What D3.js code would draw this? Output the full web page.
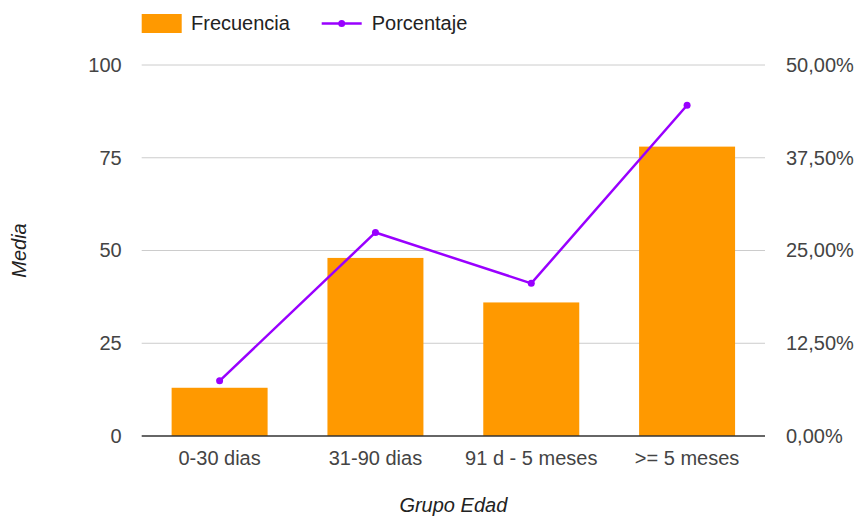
<!DOCTYPE html>
<html><head><meta charset="utf-8">
<script src="https://cdn.jsdelivr.net/npm/d3@7"></script>
<style>body{margin:0;background:#fff}svg{display:block}text{font-family:"Liberation Sans",Arial,sans-serif}</style>
</head><body><svg id="c" width="854" height="517"></svg>
<script>
const categories = ["0-30 dias", "31-90 dias", "91 d - 5 meses", ">= 5 meses"];
const frecuencia = [13, 48, 36, 78];
const porcentaje = [7.43, 27.43, 20.57, 44.57];
const leftTicks = [0, 25, 50, 75, 100];
const rightTicks = [0, 12.5, 25, 37.5, 50];
const seriesNames = ["Frecuencia", "Porcentaje"];

const svg = d3.select("#c");
const L = 141.7, R = 765, T = 65, B = 436;
const fs = 20;
const x = d3.scaleBand().domain(categories).range([L, R]).paddingInner(0.384).paddingOuter(0.192);
const y = d3.scaleLinear().domain([0, 100]).range([B, T]);
const y2 = d3.scaleLinear().domain([0, 50]).range([B, T]);

// gridlines
svg.append("g").selectAll("line").data(leftTicks.filter(d => d > 0)).join("line")
  .attr("x1", L).attr("x2", R).attr("y1", d => y(d)).attr("y2", d => y(d))
  .attr("stroke", "#cccccc").attr("stroke-width", 1);

// left axis labels
const gl = svg.append("g").attr("transform", `translate(${L - 20},0)`)
  .call(d3.axisLeft(y).tickValues(leftTicks).tickSize(0).tickPadding(0));
gl.select(".domain").remove();
gl.selectAll("text").attr("font-size", fs).attr("fill", "#444").attr("font-family", '"Liberation Sans",Arial,sans-serif');

// right axis labels
const fmt = d => d3.format(".2f")(d).replace(".", ",") + "%";
const gr = svg.append("g").attr("transform", `translate(${R + 21},0)`)
  .call(d3.axisRight(y2).tickValues(rightTicks).tickFormat(fmt).tickSize(0).tickPadding(0));
gr.select(".domain").remove();
gr.selectAll("text").attr("font-size", fs).attr("fill", "#444").attr("font-family", '"Liberation Sans",Arial,sans-serif');

// bars
svg.append("g").selectAll("rect").data(frecuencia).join("rect")
  .attr("x", (d, i) => x(categories[i])).attr("width", x.bandwidth())
  .attr("y", d => y(d)).attr("height", d => B - y(d))
  .attr("fill", "#ff9900");

// baseline
svg.append("line").attr("x1", L).attr("x2", R).attr("y1", B).attr("y2", B)
  .attr("stroke", "#333").attr("stroke-width", 1.5);

// x axis labels
const gx = svg.append("g").attr("transform", `translate(0,${B + 15})`)
  .call(d3.axisBottom(x).tickSize(0).tickPadding(0));
gx.select(".domain").remove();
gx.selectAll("text").attr("font-size", fs).attr("fill", "#444").attr("font-family", '"Liberation Sans",Arial,sans-serif');

// line
const lineColor = "#9900ff";
const cx = (d, i) => x(categories[i]) + x.bandwidth() / 2;
svg.append("path").datum(porcentaje)
  .attr("d", d3.line().x(cx).y(d => y2(d)))
  .attr("fill", "none").attr("stroke", lineColor).attr("stroke-width", 2.5);
svg.append("g").selectAll("circle").data(porcentaje).join("circle")
  .attr("cx", cx).attr("cy", d => y2(d)).attr("r", 3.5).attr("fill", lineColor);

// axis titles
svg.append("text").attr("transform", `translate(26,${(T + B) / 2}) rotate(-90)`)
  .attr("text-anchor", "middle").attr("font-size", fs).attr("font-style", "italic").attr("fill", "#222").text("Media");
svg.append("text").attr("x", (L + R) / 2).attr("y", 512)
  .attr("text-anchor", "middle").attr("font-size", fs).attr("font-style", "italic").attr("fill", "#222").text("Grupo Edad");

// legend
const lg = svg.append("g");
lg.append("rect").attr("x", 141.7).attr("y", 14).attr("width", 40).attr("height", 19).attr("fill", "#ff9900");
lg.append("text").attr("x", 191).attr("y", 30).attr("font-size", fs).attr("fill", "#222").text(seriesNames[0]);
lg.append("line").attr("x1", 321.7).attr("x2", 361.7).attr("y1", 23.5).attr("y2", 23.5).attr("stroke", lineColor).attr("stroke-width", 2.5);
lg.append("circle").attr("cx", 341.7).attr("cy", 23.5).attr("r", 3.5).attr("fill", lineColor);
lg.append("text").attr("x", 371.7).attr("y", 30).attr("font-size", fs).attr("fill", "#222").text(seriesNames[1]);
</script></body></html>
